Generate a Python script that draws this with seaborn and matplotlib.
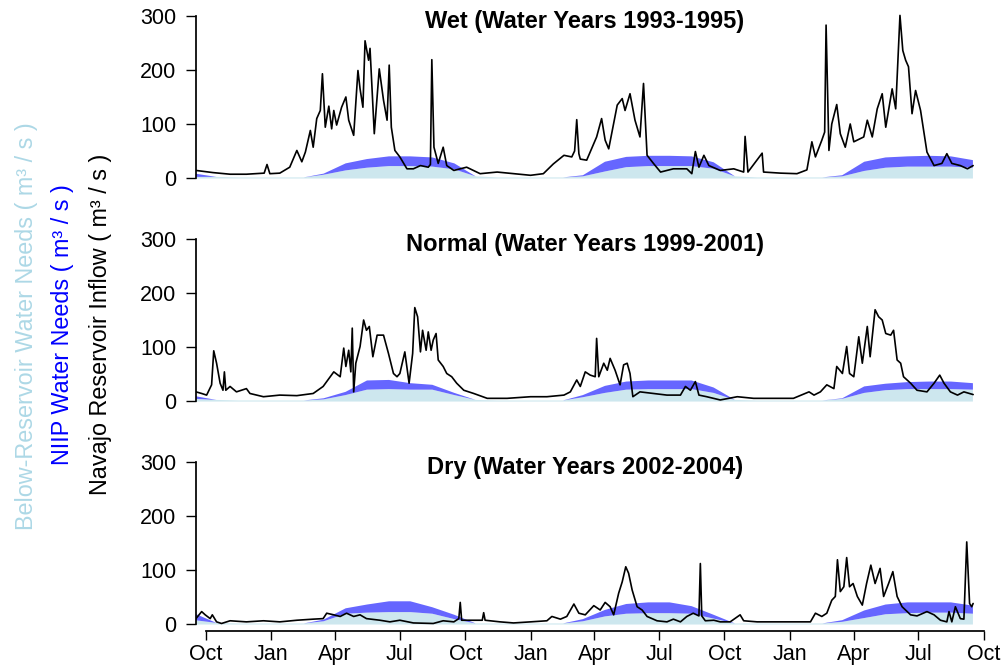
import numpy as np
import pandas as pd
import matplotlib.pyplot as plt
import matplotlib.dates as mdates
import seaborn as sns

# inflow: day offset from 17 Sep of the first year, value in m3/s
wet_day = [0, 24, 48, 71, 96, 100, 104, 118, 132, 142, 149, 154, 161, 165, 170, 175, 178, 182, 187, 191,
           194, 198, 205, 211, 215, 222, 228, 231, 235, 238, 243, 245, 251, 258, 264, 269, 272, 275, 280, 287,
           297, 306, 316, 327, 330, 332, 335, 341, 348, 353, 363, 381, 400, 424, 447, 471, 489, 503, 518, 529,
           533, 536, 539, 541, 550, 560, 564, 571, 576, 581, 586, 593, 600, 604, 611, 618, 625, 630, 635, 644,
           654, 672, 691, 698, 703, 708, 715, 722, 738, 757, 771, 773, 777, 797, 799, 823, 846, 860, 867, 872,
           881, 885, 887, 891, 895, 902, 907, 914, 921, 926, 940, 945, 952, 959, 966, 971, 980, 985, 991, 995,
           999, 1003, 1008, 1013, 1020, 1029, 1039, 1050, 1057, 1064, 1076, 1086, 1094]
wet_flow = [14, 10, 7, 7, 9, 25, 8, 9, 20, 51, 30, 48, 88, 57, 110, 125, 193, 94, 133, 91,
            125, 98, 131, 150, 107, 79, 199, 165, 131, 254, 218, 240, 82, 202, 144, 107, 209, 94, 51, 39,
            17, 17, 23, 20, 25, 219, 57, 27, 57, 23, 14, 20, 8, 11, 8, 5, 8, 26, 42, 39,
            50, 108, 45, 35, 33, 64, 76, 110, 70, 54, 88, 135, 147, 125, 156, 107, 76, 175, 42, 27,
            11, 17, 17, 8, 49, 20, 42, 23, 14, 17, 11, 77, 11, 46, 11, 9, 8, 15, 67, 39,
            70, 85, 283, 51, 100, 136, 82, 57, 100, 67, 76, 107, 76, 128, 156, 94, 165, 128, 301, 236,
            218, 206, 119, 162, 125, 48, 23, 27, 45, 27, 23, 17, 23]

normal_day = [0, 8, 15, 22, 25, 29, 34, 38, 40, 42, 48, 57, 71, 76, 95, 118, 142, 165, 179, 194,
              203, 208, 211, 215, 218, 220, 222, 225, 231, 236, 240, 244, 249, 255, 264, 271, 278, 283, 287, 294,
              300, 305, 308, 312, 316, 319, 324, 327, 331, 334, 338, 341, 348, 353, 360, 367, 377, 391, 410, 438,
              471, 494, 518, 527, 536, 541, 548, 555, 562, 564, 567, 574, 579, 583, 590, 597, 602, 607, 611, 615,
              625, 644, 663, 682, 689, 696, 703, 708, 719, 738, 762, 785, 813, 841, 863, 870, 879, 888, 898, 902,
              910, 916, 920, 926, 933, 938, 945, 949, 956, 961, 966, 971, 978, 982, 987, 992, 996, 1006, 1015, 1029,
              1039, 1047, 1053, 1062, 1072, 1081, 1094]
normal_flow = [17, 14, 11, 30, 93, 70, 33, 20, 54, 20, 27, 17, 23, 14, 8, 11, 10, 14, 27, 54,
               45, 98, 64, 94, 54, 135, 17, 70, 101, 150, 131, 138, 82, 122, 122, 88, 51, 45, 51, 91,
               33, 88, 173, 156, 91, 131, 94, 128, 94, 113, 125, 76, 64, 51, 45, 33, 20, 14, 5, 5,
               8, 8, 11, 17, 39, 27, 54, 48, 45, 116, 45, 70, 57, 79, 57, 30, 67, 70, 51, 8,
               17, 14, 11, 11, 27, 20, 36, 11, 8, 2, 8, 5, 5, 5, 17, 11, 17, 30, 23, 64,
               51, 101, 51, 45, 119, 70, 138, 82, 169, 156, 150, 125, 122, 131, 76, 70, 45, 33, 20, 17,
               33, 48, 33, 17, 11, 17, 12]

dry_day = [0, 8, 13, 20, 23, 29, 36, 48, 71, 95, 118, 142, 165, 179, 184, 194, 203, 212, 222, 231,
           240, 259, 273, 287, 306, 334, 348, 363, 370, 372, 374, 386, 403, 405, 407, 428, 447, 471, 494, 501,
           513, 522, 532, 539, 548, 560, 569, 576, 583, 588, 595, 600, 605, 609, 614, 621, 628, 635, 649, 663,
           672, 682, 691, 700, 708, 710, 712, 717, 729, 738, 752, 766, 771, 790, 823, 846, 865, 872, 881, 888,
           895, 900, 903, 907, 912, 916, 920, 925, 931, 938, 944, 950, 956, 963, 968, 975, 981, 987, 994, 1006,
           1015, 1029, 1039, 1048, 1057, 1060, 1064, 1069, 1076, 1081, 1085, 1089, 1092, 1094]
dry_flow = [10, 23, 17, 10, 17, 4, 1, 6, 4, 6, 4, 7, 9, 10, 20, 17, 14, 20, 14, 17,
            10, 7, 4, 7, 2, 1, 6, 4, 10, 40, 7, 7, 7, 21, 7, 4, 2, 4, 6, 14,
            9, 14, 37, 20, 17, 34, 26, 40, 32, 17, 57, 78, 106, 94, 63, 32, 26, 14, 6, 4,
            9, 4, 14, 20, 15, 112, 15, 6, 7, 4, 4, 17, 6, 4, 4, 4, 4, 20, 14, 20,
            44, 51, 119, 60, 69, 123, 69, 75, 51, 35, 75, 109, 75, 103, 51, 75, 97, 51, 32, 17,
            15, 23, 17, 7, 4, 23, 4, 32, 10, 9, 152, 38, 32, 38]

# water needs, mid-month from Sep of year 0 to Sep of year 3 (37 months)
wet_below = [3, 3, 2, 2, 2, 2, 7, 15, 20, 23, 23, 22, 17,
             4, 2, 2, 2, 2, 4, 13, 21, 23, 23, 23, 18,
             4, 2, 2, 2, 2, 4, 14, 20, 22, 22, 22, 20]
wet_niip = [6, 0, 0, 0, 0, 0, 2, 13, 16, 18, 18, 17, 11,
            0, 0, 0, 0, 0, 2, 18, 19, 19, 19, 18, 12,
            0, 0, 0, 0, 0, 2, 17, 19, 19, 20, 19, 14]
normal_below = [5, 3, 2, 2, 2, 2, 4, 12, 22, 23, 22, 22, 12,
                3, 2, 2, 2, 2, 8, 16, 22, 23, 23, 23, 16,
                3, 2, 2, 2, 2, 5, 16, 21, 23, 23, 23, 22]
normal_niip = [5, 0, 0, 0, 0, 0, 2, 6, 17, 17, 12, 9, 4,
               0, 0, 0, 0, 0, 4, 13, 15, 16, 16, 16, 10,
               0, 0, 0, 0, 0, 1, 12, 12, 13, 14, 14, 12]
dry_below = [8, 3, 2, 2, 2, 2, 6, 20, 22, 23, 23, 20, 10,
             2, 2, 2, 2, 2, 6, 15, 20, 21, 21, 20, 11,
             2, 2, 2, 2, 2, 5, 12, 19, 21, 22, 22, 20]
dry_niip = [12, 0, 0, 0, 0, 0, 3, 10, 15, 20, 20, 12, 8,
            0, 0, 0, 0, 0, 4, 12, 18, 20, 20, 14, 7,
            0, 0, 0, 0, 0, 3, 14, 18, 20, 19, 19, 15]

titles = ['Wet (Water Years 1993-1995)', 'Normal (Water Years 1999-2001)', 'Dry (Water Years 2002-2004)']

sns.set_theme(style='ticks')
plt.rcParams['font.family'] = ['Liberation Sans', 'DejaVu Sans']
plt.rcParams['text.color'] = 'black'

start = pd.Timestamp('1992-09-17')
month_mid = pd.date_range('1992-09-01', periods=37, freq='MS') + pd.Timedelta(days=14)

panels = [(wet_day, wet_flow, wet_below, wet_niip),
          (normal_day, normal_flow, normal_below, normal_niip),
          (dry_day, dry_flow, dry_below, dry_niip)]
bottoms = [0.7230, 0.3881, 0.0533]

fig = plt.figure(figsize=(10.05, 6.66), dpi=100)

for i, (day, flow, below, niip) in enumerate(panels):
    ax = fig.add_axes([0.1950, bottoms[i], 0.7846, 0.2628])
    below = np.array(below, dtype=float)
    total = below + np.array(niip, dtype=float)
    ax.fill_between(month_mid, 0, below, color='#CDE7EE', lw=0)
    ax.fill_between(month_mid, below, total, color='#6666FF', lw=0)
    dates = start + pd.to_timedelta(day, unit='D')
    sns.lineplot(x=dates, y=flow, ax=ax, color='black', lw=1.2)

    ax.set_xlim(start, pd.Timestamp('1995-10-02'))
    ax.set_ylim(-12, 312)
    ax.set_yticks([0, 100, 200, 300])
    ax.set_xlabel('')
    ax.set_ylabel('')
    for s in ['top', 'right']:
        ax.spines[s].set_visible(False)
    ax.spines['left'].set_bounds(0, 300)
    ax.spines['left'].set_color('black')
    ax.tick_params(axis='y', length=7, width=1, pad=7, labelsize=15.5, colors='black')
    ax.text(0.493, 0.929, titles[i], transform=ax.transAxes, ha='center', va='center',
            fontsize=17, fontweight='bold', color='black')

    if i < 2:
        ax.spines['bottom'].set_visible(False)
        ax.set_xticks([])
    else:
        ax.xaxis.set_major_locator(mdates.MonthLocator(bymonth=[1, 4, 7, 10]))
        ax.xaxis.set_major_formatter(mdates.DateFormatter('%b'))
        ax.spines['bottom'].set_bounds(mdates.date2num(pd.Timestamp('1992-10-01')),
                                       mdates.date2num(pd.Timestamp('1995-10-01')))
        ax.spines['bottom'].set_color('black')
        ax.tick_params(axis='x', length=6.5, width=1, pad=3, labelsize=15.5, colors='black')

fig.text(27 / 1005, 136 / 666, 'Below-Reservoir Water Needs ( m³ / s )', rotation=90,
         ha='center', va='bottom', color='#ADD8E6', fontsize=16.8)
fig.text(63 / 1005, 201 / 666, 'NIIP Water Needs ( m³ / s )', rotation=90,
         ha='center', va='bottom', color='#0000FF', fontsize=16.8)
fig.text(101 / 1005, 171 / 666, 'Navajo Reservoir Inflow ( m³ / s )', rotation=90,
         ha='center', va='bottom', color='black', fontsize=16.8)

fig.savefig('out.png', dpi=100)
